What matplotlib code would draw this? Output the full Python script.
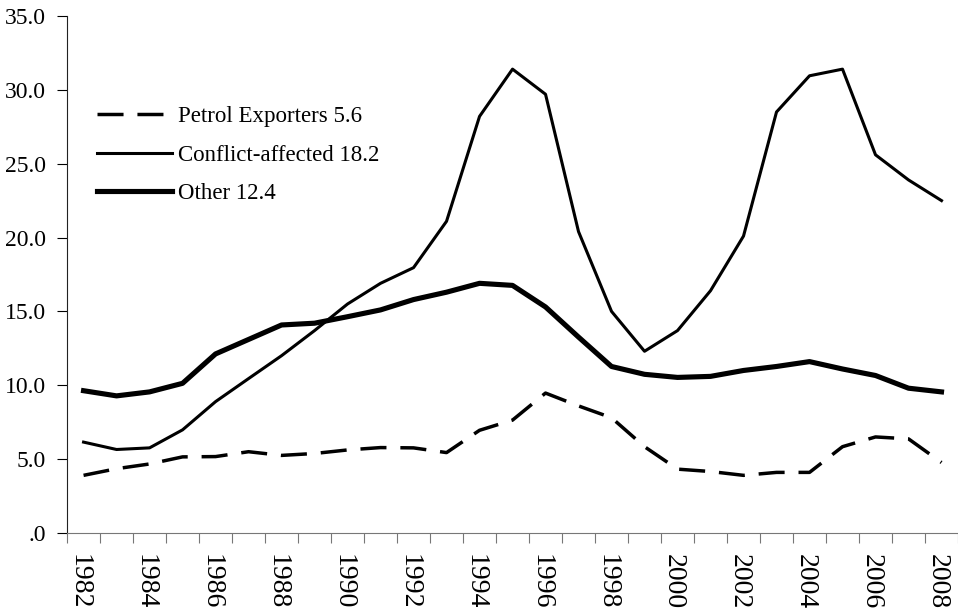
import matplotlib
matplotlib.use("Agg")
import matplotlib.pyplot as plt
import matplotlib.transforms as mtransforms
import numpy as np

years = list(range(1982, 2009))
petrol = [3.9, 4.35, 4.67, 5.15, 5.17, 5.5, 5.25, 5.38, 5.62, 5.78, 5.76, 5.44, 6.95,
          7.64, 9.47, 8.6, 7.8, 5.84, 4.32, 4.16, 3.9, 4.1, 4.1, 5.84, 6.5, 6.37, 4.77]
conflict = [6.15, 5.65, 5.76, 6.98, 8.89, 10.45, 12.0, 13.7, 15.5, 16.9, 17.96, 21.1, 28.2,
            31.4, 29.7, 20.4, 15.0, 12.3, 13.7, 16.4, 20.1, 28.5, 30.95, 31.4, 25.6, 23.9, 22.5]
other = [9.63, 9.28, 9.55, 10.13, 12.12, 13.1, 14.08, 14.2, 14.64, 15.1, 15.8, 16.3, 16.9,
         16.76, 15.3, 13.26, 11.27, 10.74, 10.53, 10.6, 11.0, 11.27, 11.6, 11.1, 10.66, 9.8, 9.55]
labels = ["Petrol Exporters 5.6", "Conflict-affected 18.2", "Other 12.4"]
yticks = [0, 5, 10, 15, 20, 25, 30, 35]
ytick_labels = [".0", "5.0", "10.0", "15.0", "20.0", "25.0", "30.0", "35.0"]

plt.rcParams['font.family'] = ['Liberation Serif', 'DejaVu Serif']

fig = plt.figure(figsize=(9.58, 6.14), dpi=100)
ax = fig.add_axes([0.07, 0.132, 0.93, 0.842])

x = np.arange(len(years))
ax.plot(x, petrol, color='black', lw=2.5, linestyle=(0, (7.5, 4)), label=labels[0])
ax.plot(x, conflict, color='black', lw=2.2, label=labels[1])
ax.plot(x, other, color='black', lw=3.7, label=labels[2])

ax.set_xlim(-0.5, len(years) - 0.5)
ax.set_ylim(0, 35)
ax.set_yticks(yticks)
ax.set_yticklabels(ytick_labels, fontsize=17)

ax.set_xticks(np.arange(-0.5, len(years), 1.0))
ax.set_xticklabels([])
ax.set_xticks(x[::2], minor=True)
ax.set_xticklabels([str(y) for y in years[::2]], minor=True, rotation=-90, fontsize=20)
ax.tick_params(axis='x', which='minor', length=0, pad=15)
ax.tick_params(axis='x', which='major', length=7, direction='out', color='#777777')
ax.tick_params(axis='y', length=7, direction='out', pad=8)

offset = mtransforms.ScaledTranslation(-4 / 100, 0, fig.dpi_scale_trans)
for lab in ax.get_xticklabels(minor=True):
    lab.set_transform(lab.get_transform() + offset)

for s in ['top', 'right']:
    ax.spines[s].set_visible(False)
ax.spines['bottom'].set_color('#777777')
ax.spines['left'].set_color('#222222')

leg = ax.legend(loc='upper left', bbox_to_anchor=(0.01, 0.865), frameon=False,
                fontsize=16.5, handlelength=3.3, handletextpad=0.25, labelspacing=0.75)

fig.savefig("out.png", dpi=100)
